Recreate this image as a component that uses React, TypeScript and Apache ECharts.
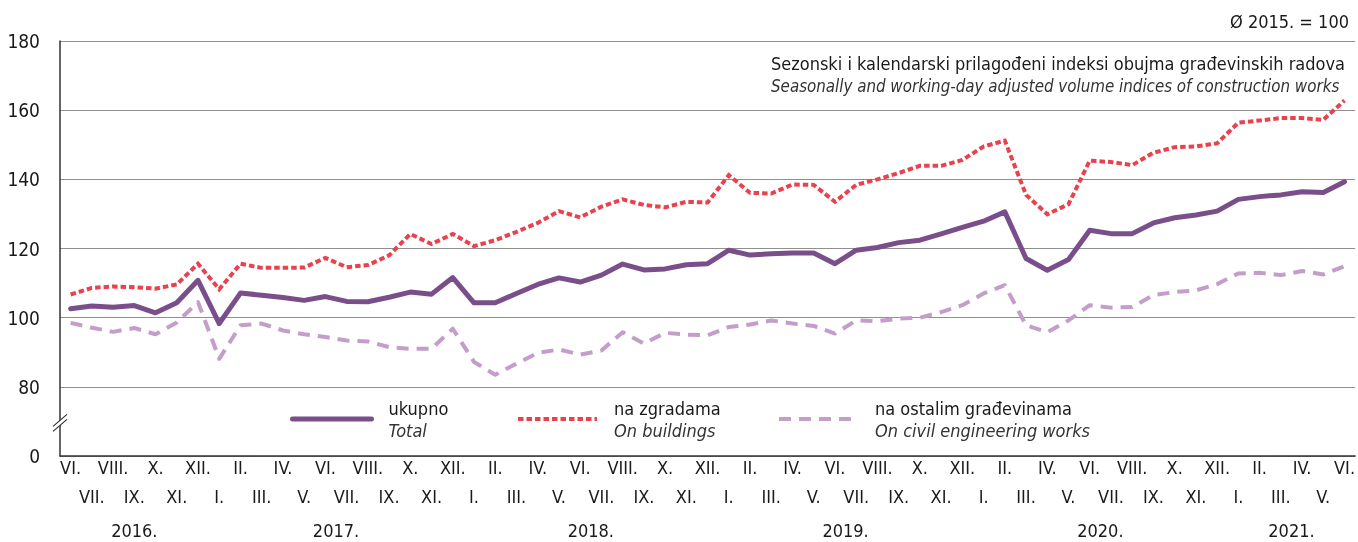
import React, { useEffect, useRef } from "react";
import * as echarts from "echarts";

const FF = "'Liberation Sans Narrow', 'DejaVu Sans Condensed', 'Arial Narrow', sans-serif";

const months2016 = ["VI.", "VII.", "VIII.", "IX.", "X.", "XI.", "XII."];
const months2017 = ["I.", "II.", "III.", "IV.", "V.", "VI.", "VII.", "VIII.", "IX.", "X.", "XI.", "XII."];
const months2018 = ["I.", "II.", "III.", "IV.", "V.", "VI.", "VII.", "VIII.", "IX.", "X.", "XI.", "XII."];
const months2019 = ["I.", "II.", "III.", "IV.", "V.", "VI.", "VII.", "VIII.", "IX.", "X.", "XI.", "XII."];
const months2020 = ["I.", "II.", "III.", "IV.", "V.", "VI.", "VII.", "VIII.", "IX.", "X.", "XI.", "XII."];
const months2021 = ["I.", "II.", "III.", "IV.", "V.", "VI."];
const categories = [...months2016, ...months2017, ...months2018, ...months2019, ...months2020, ...months2021];

const yearLabels = ["2016.", "2017.", "2018.", "2019.", "2020.", "2021."];
const yearFirstIndex = [0, 7, 19, 31, 43, 55];
const yearLastIndex = [6, 18, 30, 42, 54, 60];

const yTickValues = [60, 80, 100, 120, 140, 160, 180];
const yTickLabels = ["0", "80", "100", "120", "140", "160", "180"];

const total = [
  102.6, 103.4, 103.0, 103.5, 101.4, 104.3, 110.8, 98.3, 107.1, 106.5, 105.8, 105.0, 106.1, 104.7, 104.6, 105.9, 107.4, 106.8, 111.6,
  104.3, 104.3, 107.0, 109.6, 111.5, 110.3, 112.3, 115.5, 113.8, 114.1, 115.3, 115.6, 119.5, 118.1, 118.5, 118.7, 118.7, 115.6, 119.5, 120.3,
  121.7, 122.4, 124.2, 126.1, 127.9, 130.6, 117.1, 113.7, 116.8, 125.3, 124.3, 124.3, 127.4, 128.9, 129.7, 130.8, 134.2, 135.0, 135.5, 136.4, 136.2, 139.3,
];
const buildings = [
  106.7, 108.6, 109.0, 108.8, 108.4, 109.6, 115.6, 108.2, 115.6, 114.4, 114.4, 114.5, 117.3, 114.6, 115.2, 118.0, 124.2, 121.3, 124.2,
  120.7, 122.4, 124.8, 127.4, 130.8, 129.0, 132.1, 134.2, 132.6, 131.9, 133.5, 133.3, 141.2, 136.1, 135.9, 138.5, 138.4, 133.5, 138.4, 140.0,
  141.8, 143.9, 143.9, 145.6, 149.5, 151.2, 135.5, 129.9, 132.8, 145.4, 145.0, 144.1, 147.7, 149.3, 149.5, 150.4, 156.4, 157.0, 157.7, 157.7, 157.2, 162.8,
];
const civil = [
  98.5, 97.1, 95.9, 97.0, 95.2, 98.6, 104.5, 88.1, 97.8, 98.3, 96.3, 95.2, 94.4, 93.4, 93.1, 91.5, 91.0, 91.0, 96.8,
  87.2, 83.5, 86.7, 89.8, 90.8, 89.3, 90.5, 95.8, 92.5, 95.6, 95.1, 94.9, 97.3, 98.0, 99.2, 98.3, 97.6, 95.4, 99.2, 99.0,
  99.7, 100.0, 101.6, 103.6, 107.0, 109.4, 97.8, 95.8, 99.2, 103.6, 102.9, 103.1, 106.5, 107.4, 107.9, 109.7, 112.8, 113.0, 112.3, 113.5, 112.5, 114.9,
];

const seriesNames = ["ukupno", "na zgradama", "na ostalim građevinama"];
const seriesNamesEn = ["Total", "On buildings", "On civil engineering works"];

const C_TOTAL = "#7a4e8b";
const C_BUILD = "#e8424f";
const C_CIVIL = "#c49dca";

const TEXT = "#1a1a1a";

function legendFor(idx: number, left: number, lineStyle: any) {
  return {
    data: [seriesNames[idx]],
    left,
    top: 399,
    padding: 0,
    orient: "horizontal",
    selectedMode: false,
    itemWidth: 79,
    itemHeight: 14,
    lineStyle,
    itemStyle: { color: "rgba(0,0,0,0)", borderColor: "rgba(0,0,0,0)", borderWidth: 0, opacity: 0 },
    formatter: () => `{a|${seriesNames[idx]}}\n{b|${seriesNamesEn[idx]}}`,
    textStyle: {
      fontFamily: FF,
      rich: {
        a: { fontFamily: FF, fontSize: 18, color: TEXT, lineHeight: 22, padding: [0, 0, 0, 12] },
        b: { fontFamily: FF, fontSize: 18, fontStyle: "italic", color: "#333", lineHeight: 22, padding: [0, 0, 0, 12] },
      },
    },
  };
}

export default function App() {
  const ref = useRef<HTMLDivElement>(null);
  useEffect(() => {
    const chart = echarts.init(ref.current!, null, { renderer: "svg" });
    const option: any = {
      animation: false,
      textStyle: { fontFamily: FF },
      grid: { left: 60, right: 0, top: 41, bottom: 86, containLabel: false },
      xAxis: {
        type: "category",
        data: categories,
        boundaryGap: true,
        axisLine: { show: true, lineStyle: { color: "#333", width: 1.5 } },
        axisTick: { show: false },
        splitLine: { show: false },
        axisLabel: {
          interval: 0,
          margin: -3,
          fontFamily: FF,
          fontSize: 18,
          color: TEXT,
          lineHeight: 29,
          formatter: (v: string, i: number) => (i % 2 === 0 ? v : "\n" + v),
        },
      },
      yAxis: {
        type: "value",
        min: 60,
        max: 180,
        interval: 20,
        axisLine: { show: true, lineStyle: { color: "#333", width: 1.5 } },
        axisTick: { show: false },
        splitLine: { show: true, lineStyle: { color: "#8f8f8f", width: 1.2 } },
        axisLabel: {
          margin: 20,
          fontFamily: FF,
          fontSize: 19,
          color: TEXT,
          formatter: (v: number) => {
            const k = yTickValues.indexOf(v);
            return k >= 0 ? yTickLabels[k] : "";
          },
        },
      },
      legend: [
        legendFor(0, 290, { width: 5, color: C_TOTAL, type: "solid", cap: "round" }),
        legendFor(1, 516, { width: 4, color: C_BUILD, type: [5.5, 3] }),
        legendFor(2, 777, { width: 4, color: C_CIVIL, type: [12, 8] }),
      ],
      series: [
        {
          name: seriesNames[0],
          type: "line",
          data: total,
          symbol: "none",
          z: 4,
          lineStyle: { color: C_TOTAL, width: 5, join: "round", cap: "round" },
          itemStyle: { color: C_TOTAL },
        },
        {
          name: seriesNames[1],
          type: "line",
          data: buildings,
          symbol: "none",
          z: 3,
          lineStyle: { color: C_BUILD, width: 4, type: [5.5, 3], join: "miter" },
          itemStyle: { color: C_BUILD },
        },
        {
          name: seriesNames[2],
          type: "line",
          data: civil,
          symbol: "none",
          z: 2,
          lineStyle: { color: C_CIVIL, width: 4, type: [12, 8], join: "round" },
          itemStyle: { color: C_CIVIL },
        },
      ],
    };
    chart.setOption(option);

    const xAt = (i: number) => {
      const a = chart.convertToPixel({ xAxisIndex: 0 }, Math.floor(i)) as number;
      const b = chart.convertToPixel({ xAxisIndex: 0 }, Math.ceil(i)) as number;
      return (a + b) / 2;
    };
    const axisX = 60;
    const yBreak = chart.convertToPixel({ yAxisIndex: 0 }, 70) as number;

    const graphic: any[] = [];
    yearLabels.forEach((lab, k) => {
      graphic.push({
        type: "text",
        x: xAt((yearFirstIndex[k] + yearLastIndex[k]) / 2),
        y: 530,
        style: { text: lab, fontFamily: FF, fontSize: 18, fill: TEXT, align: "center", verticalAlign: "middle" },
      });
    });
    graphic.push({
      type: "polygon",
      shape: { points: [[axisX - 7, yBreak + 5], [axisX + 7, yBreak - 7], [axisX + 7, yBreak - 2], [axisX - 7, yBreak + 10]] },
      style: { fill: "#fff" },
      z: 100,
    });
    graphic.push({
      type: "line",
      shape: { x1: axisX - 7, y1: yBreak + 5, x2: axisX + 7, y2: yBreak - 7 },
      style: { stroke: "#333", lineWidth: 1.2 },
      z: 101,
    });
    graphic.push({
      type: "line",
      shape: { x1: axisX - 7, y1: yBreak + 10, x2: axisX + 7, y2: yBreak - 2 },
      style: { stroke: "#333", lineWidth: 1.2 },
      z: 101,
    });
    graphic.push({
      type: "text",
      x: 1349,
      y: 21,
      style: { text: "Ø 2015. = 100", fontFamily: FF, fontSize: 18, fill: TEXT, align: "right", verticalAlign: "middle" },
    });
    graphic.push({
      type: "text",
      x: 771,
      y: 63,
      style: { text: "Sezonski i kalendarski prilagođeni indeksi obujma građevinskih radova", fontFamily: FF, fontSize: 18, fill: TEXT, align: "left", verticalAlign: "middle" },
    });
    graphic.push({
      type: "text",
      x: 771,
      y: 86,
      style: { text: "Seasonally and working-day adjusted volume indices of construction works", fontFamily: FF, fontSize: 16.8, fontStyle: "italic", fill: "#333", align: "left", verticalAlign: "middle" },
    });
    chart.setOption({ graphic });

    return () => chart.dispose();
  }, []);
  return <div ref={ref} style={{ position: "fixed", left: 0, top: 0, width: 1358, height: 542 }} />;
}
